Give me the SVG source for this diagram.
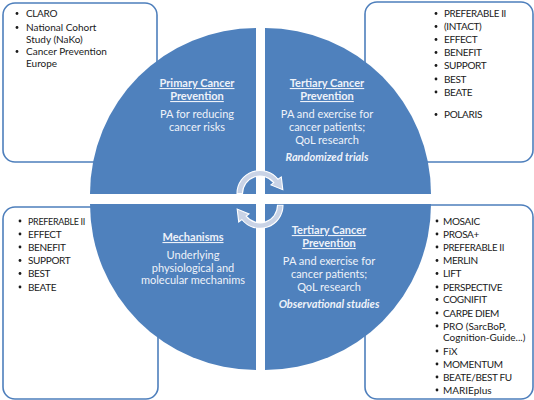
<svg xmlns="http://www.w3.org/2000/svg" width="534" height="400" viewBox="0 0 534 400">
<style>
.box{fill:#fff;stroke:#4e7fbc;stroke-width:1.6}
.q{fill:#4f81bd}
.lt{font-family:Lato,"Liberation Sans",sans-serif;font-size:10px;fill:#1a1a1a}
.cap{letter-spacing:-0.35px}
.ct{font-family:Lato,"Liberation Sans",sans-serif;font-size:11px;fill:#eef2f9;text-anchor:middle}
.tt{font-weight:bold;text-decoration:underline}
.it{font-weight:bold;font-style:italic}
.arr{fill:#c9d3e6;stroke:#ffffff;stroke-width:1.1}
</style>
<defs>
<path id="carr" d="M237 193.5 A23 23 0 0 1 278.1 179.3 L281.3 176.9 L282.8 189.7 L271 184.9 L273.8 182.7 A17.5 17.5 0 0 0 242.5 193.5 Z"/>
</defs>
<g id="box-tl">
<rect class="box" x="3" y="3" width="154" height="159" rx="12"/>
<g class="lt">
<circle cx="17" cy="13.5" r="1.4" fill="#1a1a1a"/><text class="cap" x="26" y="17">CLARO</text>
<circle cx="17" cy="27.5" r="1.4" fill="#1a1a1a"/><text x="26" y="31">National Cohort</text><text x="26" y="42.5">Study (NaKo)</text>
<circle cx="17" cy="51.5" r="1.4" fill="#1a1a1a"/><text x="26" y="55">Cancer Prevention</text><text x="26" y="66.5">Europe</text>
</g>
</g>
<g id="box-tr">
<rect class="box" x="365" y="2" width="168" height="160" rx="12"/>
<g class="lt cap">
<circle cx="436" cy="13.5" r="1.4" fill="#1a1a1a"/><text x="444" y="17" textLength="62" lengthAdjust="spacingAndGlyphs">PREFERABLE II</text>
<circle cx="436" cy="26.5" r="1.4" fill="#1a1a1a"/><text x="444" y="30">(INTACT)</text>
<circle cx="436" cy="39.5" r="1.4" fill="#1a1a1a"/><text x="444" y="43">EFFECT</text>
<circle cx="436" cy="52.5" r="1.4" fill="#1a1a1a"/><text x="444" y="56">BENEFIT</text>
<circle cx="436" cy="65.5" r="1.4" fill="#1a1a1a"/><text x="444" y="69">SUPPORT</text>
<circle cx="436" cy="79" r="1.4" fill="#1a1a1a"/><text x="444" y="82.5">BEST</text>
<circle cx="436" cy="92" r="1.4" fill="#1a1a1a"/><text x="444" y="95.5">BEATE</text>
<circle cx="436" cy="114.5" r="1.4" fill="#1a1a1a"/><text x="444" y="118">POLARIS</text>
</g>
</g>
<g id="box-bl">
<rect class="box" x="3" y="207" width="155" height="192" rx="12"/>
<g class="lt cap">
<circle cx="20" cy="221" r="1.4" fill="#1a1a1a"/><text x="28" y="224.5" textLength="57" lengthAdjust="spacingAndGlyphs">PREFERABLE II</text>
<circle cx="20" cy="234" r="1.4" fill="#1a1a1a"/><text x="28" y="237.5">EFFECT</text>
<circle cx="20" cy="247" r="1.4" fill="#1a1a1a"/><text x="28" y="250.5">BENEFIT</text>
<circle cx="20" cy="260.5" r="1.4" fill="#1a1a1a"/><text x="28" y="264">SUPPORT</text>
<circle cx="20" cy="273.5" r="1.4" fill="#1a1a1a"/><text x="28" y="277">BEST</text>
<circle cx="20" cy="287" r="1.4" fill="#1a1a1a"/><text x="28" y="290.5">BEATE</text>
</g>
</g>
<g id="box-br">
<rect class="box" x="365" y="205" width="168" height="194" rx="12"/>
<g class="lt">
<circle cx="437" cy="221" r="1.4" fill="#1a1a1a"/><text class="cap" x="443" y="224.5">MOSAIC</text>
<circle cx="437" cy="234" r="1.4" fill="#1a1a1a"/><text class="cap" x="443" y="237.5">PROSA+</text>
<circle cx="437" cy="247" r="1.4" fill="#1a1a1a"/><text class="cap" x="443" y="250.5" textLength="61" lengthAdjust="spacingAndGlyphs">PREFERABLE II</text>
<circle cx="437" cy="260.5" r="1.4" fill="#1a1a1a"/><text class="cap" x="443" y="264">MERLIN</text>
<circle cx="437" cy="273.5" r="1.4" fill="#1a1a1a"/><text class="cap" x="443" y="277">LIFT</text>
<circle cx="437" cy="287" r="1.4" fill="#1a1a1a"/><text class="cap" x="443" y="290.5">PERSPECTIVE</text>
<circle cx="437" cy="299.5" r="1.4" fill="#1a1a1a"/><text class="cap" x="443" y="303">COGNIFIT</text>
<circle cx="437" cy="313" r="1.4" fill="#1a1a1a"/><text class="cap" x="443" y="316.5">CARPE DIEM</text>
<circle cx="437" cy="326" r="1.4" fill="#1a1a1a"/><text x="443" y="329.5">PRO (SarcBoP,</text><text x="443" y="341">Cognition-Guide...)</text>
<circle cx="437" cy="351" r="1.4" fill="#1a1a1a"/><text x="443" y="354.5">FiX</text>
<circle cx="437" cy="364" r="1.4" fill="#1a1a1a"/><text class="cap" x="443" y="367.5">MOMENTUM</text>
<circle cx="437" cy="377" r="1.4" fill="#1a1a1a"/><text class="cap" x="443" y="380.5">BEATE/BEST FU</text>
<circle cx="437" cy="390" r="1.4" fill="#1a1a1a"/><text x="443" y="393.5">MARIEplus</text>
</g>
</g>
<g id="q-primary">
<path class="q" d="M256 194 L90 194 A166 166 0 0 1 256 28 Z"/>
<text class="ct tt" x="197" y="87">Primary Cancer</text>
<text class="ct tt" x="197" y="100">Prevention</text>
<text class="ct" x="197" y="117.5">PA for reducing</text>
<text class="ct" x="197" y="130.5">cancer risks</text>
</g>
<g id="q-tertiary-rct">
<path class="q" d="M265 194 L265 28 A166 166 0 0 1 431 194 Z"/>
<text class="ct tt" x="327" y="87">Tertiary Cancer</text>
<text class="ct tt" x="327" y="100">Prevention</text>
<text class="ct" x="327" y="117.5">PA and exercise for</text>
<text class="ct" x="327" y="130.5">cancer patients;</text>
<text class="ct" x="327" y="143.5">QoL research</text>
<text class="ct it" x="327" y="161">Randomized trials</text>
</g>
<g id="q-mechanisms">
<path class="q" d="M256 204 L256 370 A166 166 0 0 1 90 204 Z"/>
<text class="ct tt" x="193" y="241">Mechanisms</text>
<text class="ct" x="193" y="259">Underlying</text>
<text class="ct" x="193" y="271.5">physiological and</text>
<text class="ct" x="193" y="284">molecular mechanims</text>
</g>
<g id="q-tertiary-obs">
<path class="q" d="M265 204 L431 204 A166 166 0 0 1 265 370 Z"/>
<text class="ct tt" x="329" y="234">Tertiary Cancer</text>
<text class="ct tt" x="329" y="247">Prevention</text>
<text class="ct" x="329" y="264.5">PA and exercise for</text>
<text class="ct" x="329" y="277.5">cancer patients;</text>
<text class="ct" x="329" y="290.5">QoL research</text>
<text class="ct it" x="329" y="308">Observational studies</text>
</g>
<g id="connectors">
<use href="#carr" class="arr"/>
<use href="#carr" class="arr" transform="rotate(180 260 199.4)"/>
</g>
</svg>
